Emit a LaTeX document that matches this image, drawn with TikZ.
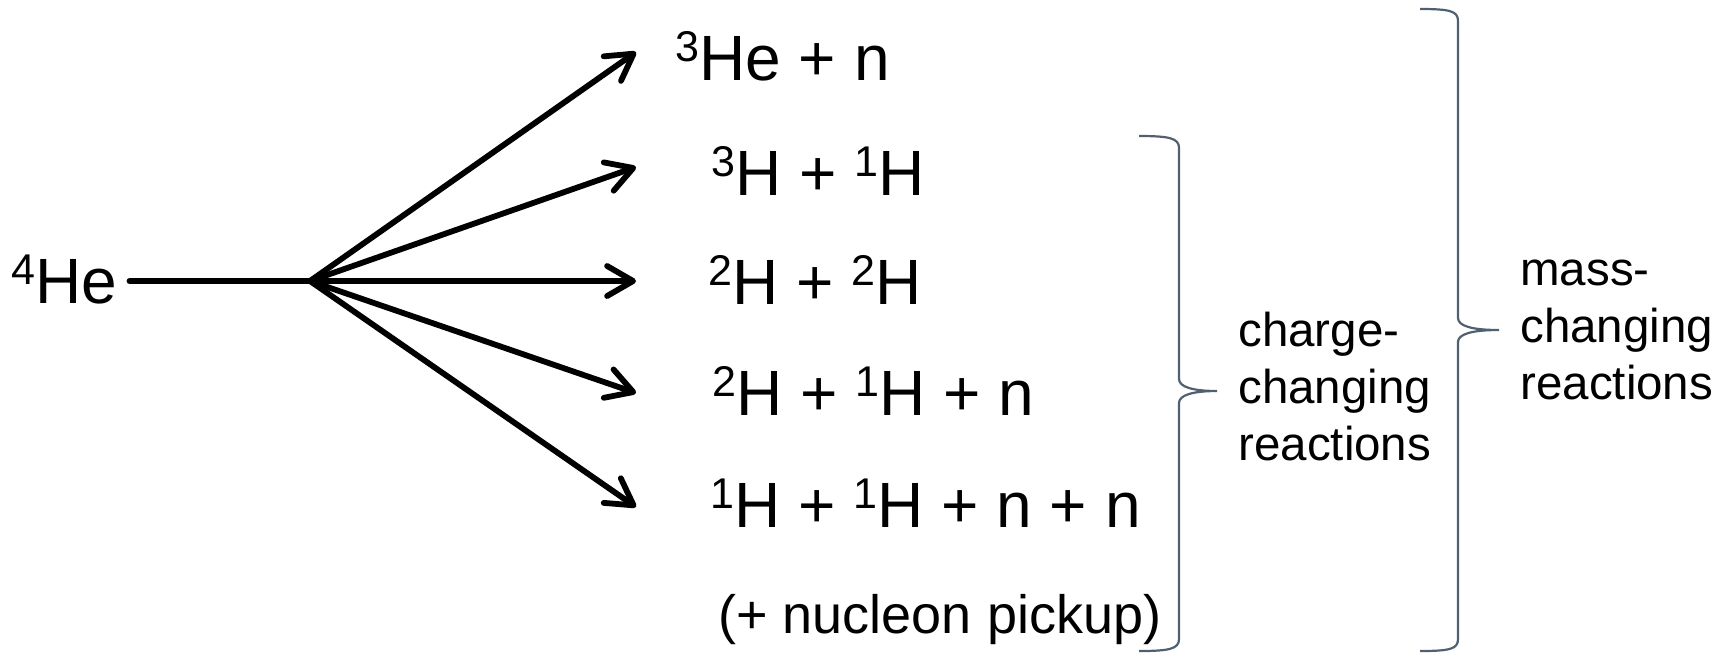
\documentclass[tikz,border=0pt]{standalone}
\usepackage{fontspec}
\setmainfont{Liberation Sans}
\usetikzlibrary{arrows.meta}
\definecolor{bracecol}{RGB}{80,96,112}
% isotope with its mass number as a raised prefix
\newcommand\nuc[2]{\raisebox{9.5pt}{\fontsize{21.5pt}{21.5pt}\selectfont #1}#2}
% right-hand curly brace: #1 stem x, #2 top y, #3 bottom y, #4 hook end x, #5 tip y, #6 tip x
\newcommand\sidebrace[6]{%
  \draw[brace] (#4,#2) .. controls ({#4+30},#2) and (#1,{#2+2}) .. (#1,{#2+12})
    -- (#1,{#5-12}) .. controls (#1,{#5-4}) and ({#1+14},#5) .. (#6,#5)
    .. controls ({#1+14},#5) and (#1,{#5+4}) .. (#1,{#5+12})
    -- (#1,{#3-12}) .. controls (#1,{#3-2}) and ({#4+30},#3) .. (#4,#3);}

\begin{document}
\begin{tikzpicture}[x=0.5pt,y=-0.5pt,
  reac/.style={anchor=base west, inner sep=0pt, font=\fontsize{32pt}{38pt}\selectfont},
  side/.style={anchor=base west, inner sep=0pt, align=left,
    font=\fontsize{23.75pt}{28.5pt}\selectfont},
  beam/.style={line width=2.9pt, line cap=round, line join=round},
  arr/.style={beam, -{Straight Barb[length=13pt,width=15pt,line cap=round,line join=round]}},
  brace/.style={draw=bracecol, line width=1.1pt}]
\useasboundingbox (0,0) rectangle (1732,655);

% source nucleus and branching point
\node[reac] (he4) at (11,303) {\nuc{4}{He}};
\coordinate (split) at (310,281);
\draw[beam, shorten <=6pt] (he4.east |- split) -- (split);

% arrow ends
\coordinate (t1) at (636,52);
\coordinate (t2) at (636,167);
\coordinate (t3) at (636,281);
\coordinate (t4) at (636,393);
\coordinate (t5) at (636,507);
\foreach \t in {t1,t2,t3,t4,t5} \draw[arr] (split) -- (\t);

% reaction products
\node[reac] (r1) at (675,80)  {\nuc{3}{He} + n};
\node[reac] (r2) at (711,195) {\nuc{3}{H} + \nuc{1}{H}};
\node[reac] (r3) at (708,304) {\nuc{2}{H} + \nuc{2}{H}};
\node[reac] (r4) at (712,415) {\nuc{2}{H} + \nuc{1}{H} + n};
\node[reac] (r5) at (710,527) {\nuc{1}{H} + \nuc{1}{H} + n + n};
\node[reac, font=\fontsize{27pt}{33pt}\selectfont] (pick) at (718,633) {(+ nucleon pickup)};

% grouping braces and their labels (anchored at the last line's baseline)
\sidebrace{1179}{136}{651}{1139}{391}{1217}
\sidebrace{1458}{9}{651}{1420}{330}{1499}
\node[side] (charge) at (1238,460) {charge-\\changing\\reactions};
\node[side] (mass) at (1520,399) {mass-\\changing\\reactions};
\end{tikzpicture}
\end{document}
